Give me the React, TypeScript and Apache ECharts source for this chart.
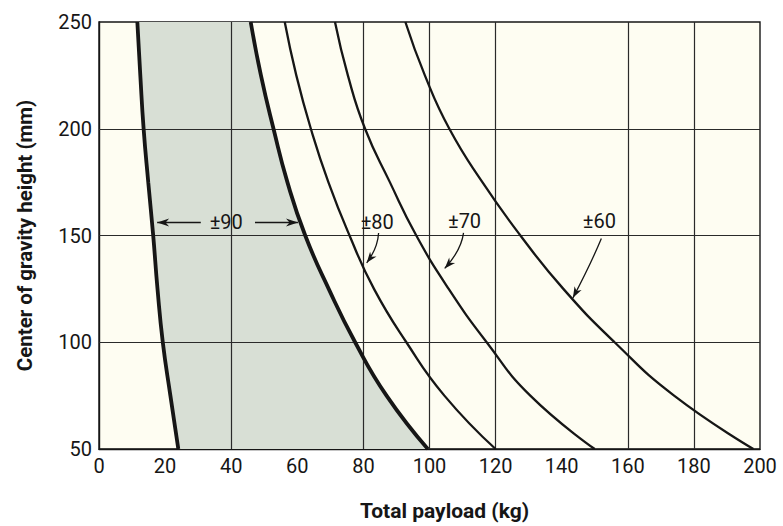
import React, { useEffect, useRef } from "react";
import * as echarts from "echarts";

// Center of gravity heights (mm) at which each curve was read
const Y_LEVELS = [50, 75, 100, 125, 150, 175, 200, 225, 250];
// Payload (kg) along each curve at those heights
const CURVE_LEFT_90 = [24, 21.6, 19.3, 17.7, 16.4, 14.9, 13.5, 12.5, 11.6];
const CURVE_RIGHT_90 = [99.5, 87, 77.5, 69.5, 62.4, 57, 52.8, 49, 45.9];
const CURVE_80 = [120, 104.5, 93, 83.2, 75.8, 69.4, 64.1, 59.7, 56.2];
const CURVE_70 = [150, 130.5, 117.3, 105.8, 96, 88, 80.5, 75.3, 71.4];
const CURVE_60 = [198, 174, 156, 140.5, 127.5, 116, 106, 98.6, 92.7];

// Grid lines present in the original figure
const V_GRID = [40, 80, 100, 120, 160, 180];
const H_GRID = [100, 150, 200];

// Curve labels
const LABELS = ["±90", "±80", "±70", "±60"];

const INK = "#161616";
const PLOT_BG = "#fefdf2";
const SHADE = "#d8dfd5";
const FONT = "Roboto, 'Liberation Sans', sans-serif";

function pairs(xs: number[]) {
  return Y_LEVELS.map((y, i) => [xs[i], y]);
}

function arrowHead(tip: number[], from: number[], len = 11, half = 4) {
  const dx = tip[0] - from[0];
  const dy = tip[1] - from[1];
  const d = Math.hypot(dx, dy) || 1;
  const ux = dx / d, uy = dy / d;
  const px = -uy, py = ux;
  const bx = tip[0] - ux * len, by = tip[1] - uy * len;
  const nx = tip[0] - ux * len * 0.7, ny = tip[1] - uy * len * 0.7;
  return {
    type: "polygon",
    shape: { points: [tip, [bx + px * half, by + py * half], [nx, ny], [bx - px * half, by - py * half]] },
    style: { fill: INK },
  };
}

export default function App() {
  const ref = useRef<HTMLDivElement>(null);
  useEffect(() => {
    document.body.style.margin = "0";
    const chart = echarts.init(ref.current!, null, { renderer: "svg" });

    // annotation anchors in data coordinates
    const annots = [
      { text: LABELS[0], at: [38.5, 156.3], arrows: [
        { from: [30.8, 156.1], to: [17.6, 156.1] },
        { from: [47.2, 156.1], to: [60.2, 156.1] },
      ] },
      { text: LABELS[1], at: [84.2, 156.5], arrows: [
        { from: [84.6, 151.2], ctrl: [84.3, 144], to: [81.0, 137.2] },
      ] },
      { text: LABELS[2], at: [110.6, 156.8], arrows: [
        { from: [110.3, 151.2], ctrl: [109.6, 143], to: [104.6, 134.6] },
      ] },
      { text: LABELS[3], at: [151.4, 156.8], arrows: [
        { from: [152.0, 148.6], ctrl: [148.6, 136], to: [143.4, 120.8] },
      ] },
    ];

    const lineSeries = (name: string, xs: number[], width: number) => ({
      name,
      type: "line",
      data: pairs(xs),
      smooth: 0.5,
      showSymbol: false,
      symbol: "none",
      silent: true,
      z: 5,
      lineStyle: { color: INK, width },
    });

    chart.setOption({
      animation: false,
      backgroundColor: "#ffffff",
      grid: {
        left: 99, right: 23, top: 22, bottom: 77,
        show: true, backgroundColor: PLOT_BG, borderColor: INK, borderWidth: 1.4,
      },
      xAxis: {
        type: "value", min: 0, max: 200, interval: 20,
        name: "Total payload (kg)", nameLocation: "middle", nameGap: 51,
        nameTextStyle: { fontFamily: FONT, fontWeight: "bold", fontSize: 21, color: INK, padding: [0, 0, 0, 30] },
        axisLine: { show: true, lineStyle: { color: INK, width: 1.4 } },
        axisTick: { show: false },
        splitLine: { show: false },
        axisLabel: { fontFamily: FONT, fontSize: 20, color: INK, margin: 7 },
      },
      yAxis: {
        type: "value", min: 50, max: 250, interval: 50,
        name: "Center of gravity height (mm)", nameLocation: "middle", nameGap: 64,
        nameTextStyle: { fontFamily: FONT, fontWeight: "bold", fontSize: 20.5, color: INK },
        axisLine: { show: true, lineStyle: { color: INK, width: 1.4 } },
        axisTick: { show: false },
        splitLine: { show: false },
        axisLabel: { fontFamily: FONT, fontSize: 20, color: INK, margin: 7 },
      },
      series: [
        {
          type: "custom",
          silent: true,
          z: 1,
          data: [[CURVE_LEFT_90[0], Y_LEVELS[0]]],
          renderItem: (_p: any, api: any) => {
            const left = Y_LEVELS.map((y, i) => api.coord([CURVE_LEFT_90[i], y]));
            const right = Y_LEVELS.map((y, i) => api.coord([CURVE_RIGHT_90[i], y])).reverse();
            return { type: "polygon", shape: { points: [...left, ...right], smooth: 0 }, style: { fill: SHADE } };
          },
        },
        {
          type: "line",
          data: [],
          silent: true,
          z: 3,
          markLine: {
            silent: true,
            symbol: ["none", "none"],
            label: { show: false },
            lineStyle: { color: "#2a2a2a", width: 1.2, type: "solid" },
            data: [
              ...V_GRID.map((v) => ({ xAxis: v })),
              ...H_GRID.map((v) => ({ yAxis: v })),
            ],
          },
        },
        lineSeries("left90", CURVE_LEFT_90, 3.8),
        lineSeries("right90", CURVE_RIGHT_90, 3.8),
        lineSeries("80", CURVE_80, 2.3),
        lineSeries("70", CURVE_70, 2.3),
        lineSeries("60", CURVE_60, 2.3),
        {
          type: "custom",
          silent: true,
          z: 6,
          data: annots.map((a) => a.at),
          renderItem: (p: any, api: any) => {
            const a = annots[p.dataIndex];
            const c = api.coord(a.at);
            const children: any[] = [
              {
                type: "text",
                style: {
                  text: a.text, x: c[0], y: c[1], align: "center", verticalAlign: "middle",
                  fontFamily: FONT, fontSize: 20, fill: INK,
                },
              },
            ];
            a.arrows.forEach((ar: any) => {
              const s = api.coord(ar.from);
              const t = api.coord(ar.to);
              if (ar.ctrl) {
                const k = api.coord(ar.ctrl);
                children.push({
                  type: "bezierCurve",
                  shape: { x1: s[0], y1: s[1], cpx1: k[0], cpy1: k[1], x2: t[0], y2: t[1] },
                  style: { stroke: INK, lineWidth: 1.3, fill: "none" },
                });
                children.push(arrowHead(t, k));
              } else {
                children.push({
                  type: "line",
                  shape: { x1: s[0], y1: s[1], x2: t[0], y2: t[1] },
                  style: { stroke: INK, lineWidth: 1.4 },
                });
                children.push(arrowHead(t, s, 12, 4));
              }
            });
            return { type: "group", children };
          },
        },
      ],
    });
    return () => chart.dispose();
  }, []);
  return <div ref={ref} style={{ width: 783, height: 526 }} />;
}
